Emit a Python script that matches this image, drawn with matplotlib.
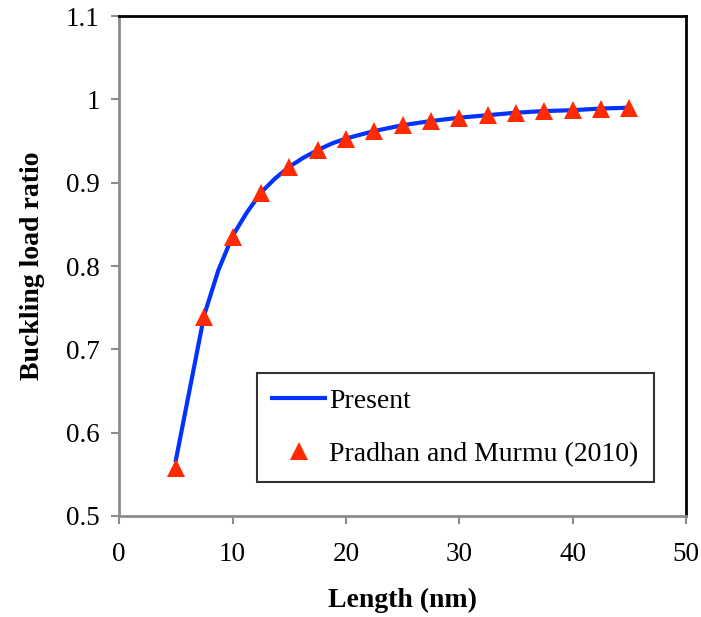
import matplotlib
matplotlib.use("Agg")
from matplotlib import pyplot as plt
from matplotlib.ticker import FuncFormatter

# datos
present_x = [5, 7.5, 8.75, 10, 11.25, 12.5, 13.75, 15, 16.25, 17.5, 18.75, 20,
             22.5, 25, 27.5, 30, 32.5, 35, 37.5, 40, 42.5, 45]
present = [0.567, 0.741, 0.795, 0.836, 0.864, 0.888, 0.905, 0.919, 0.930,
           0.939, 0.947, 0.953, 0.962, 0.969, 0.974, 0.978, 0.981, 0.984, 0.986,
           0.987, 0.989, 0.990]
length = [5, 7.5, 10, 12.5, 15, 17.5, 20, 22.5, 25, 27.5, 30, 32.5, 35, 37.5, 40, 42.5, 45]
pradhan = [0.558, 0.739, 0.835, 0.888, 0.919, 0.939, 0.953, 0.962, 0.969, 0.974,
           0.978, 0.981, 0.984, 0.986, 0.987, 0.989, 0.990]
xticks = [0, 10, 20, 30, 40, 50]
yticks = [0.5, 0.6, 0.7, 0.8, 0.9, 1.0, 1.1]

plt.rcParams['font.family'] = ['Liberation Serif', 'DejaVu Serif']

fig = plt.figure(figsize=(7.01, 6.17), dpi=100)
ax = fig.add_axes([0.170, 0.1637, 0.8086, 0.8103])

ax.plot(present_x, present, '-', color='#0033ff', lw=3, label='Present', zorder=2,
        solid_joinstyle='round')
ax.plot(length, pradhan, '^', color='#ff2a00', markersize=13, markeredgewidth=0,
        label='Pradhan and Murmu (2010)', zorder=3)

ax.set_xlim(0, 50)
ax.set_ylim(0.5, 1.1)
ax.set_xticks(xticks)
ax.set_yticks(yticks)
ax.yaxis.set_major_formatter(FuncFormatter(lambda v, p: '%g' % round(v, 2)))
ax.tick_params(direction='out', length=6, width=1.5, color='#8c8c8c', labelsize=19.5)
ax.tick_params(axis='x', pad=13)
ax.tick_params(axis='y', pad=8)

for s in ['left', 'bottom']:
    ax.spines[s].set_color('#8c8c8c')
    ax.spines[s].set_linewidth(2)
for s in ['top', 'right']:
    ax.spines[s].set_color('black')
    ax.spines[s].set_linewidth(2)

ax.set_xlabel('Length (nm)', fontsize=20, fontweight='bold', labelpad=15)
ax.set_ylabel('Buckling load ratio', fontsize=20, fontweight='bold', labelpad=15)

leg = ax.legend(loc='lower left', bbox_to_anchor=(0.243, 0.068), borderaxespad=0,
                fontsize=20, frameon=True, fancybox=False, handlelength=1.9,
                handletextpad=0.15, labelspacing=1.0, borderpad=0.55)
leg.get_frame().set_edgecolor('black')
leg.get_frame().set_linewidth(1.5)

fig.savefig('out.png', dpi=100)
